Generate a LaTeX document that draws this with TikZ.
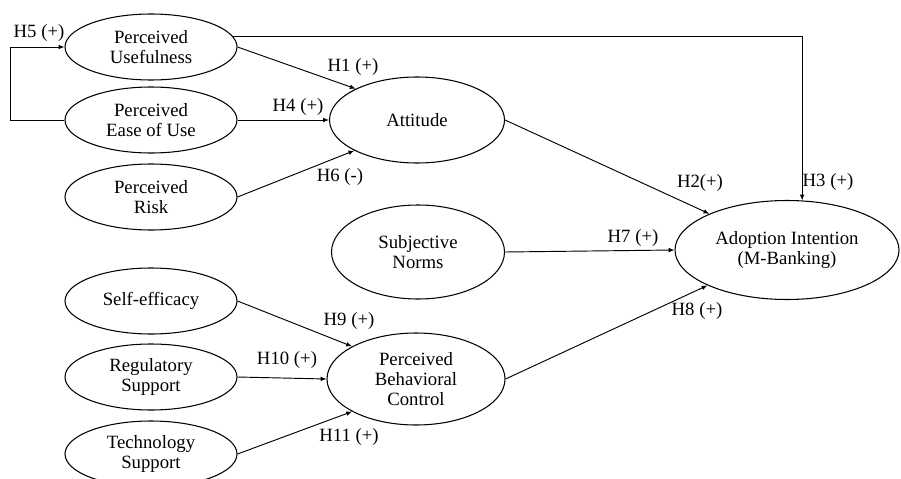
\documentclass[tikz,border=0pt]{standalone}
\usepackage{fontspec}
\setmainfont{Liberation Serif}
\usetikzlibrary{arrows.meta,shapes.geometric}
\tikzset{
	construct/.style={draw, ellipse, line width=0.9pt, inner sep=0pt, align=center, font=\fontsize{16}{17}\selectfont},
	small/.style={construct, minimum width=5.16cm, minimum height=1.98cm},
	hyp/.style={font=\fontsize{16}{17}\selectfont, inner sep=0pt},
	arr/.style={line width=0.8pt, -{Latex[length=5pt,width=4pt]}}
}

\begin{document}
\begin{tikzpicture}[x=0.03cm, y=-0.03cm]
			%%%%% START %%%%%
			
			\useasboundingbox (0, 0) rectangle (901, 479);
			
			\node[small] (pu) at (151, 47) {Perceived\\Usefulness};
			\node[small] (peou) at (151, 120) {Perceived\\Ease of Use};
			\node[small] (risk) at (151, 197) {Perceived\\Risk};
			\node[small] (se) at (151, 301) {Self-efficacy};
			\node[small] (rs) at (151, 377) {Regulatory\\Support};
			\node[small] (ts) at (151, 454) {Technology\\Support};
			
			\node[construct, minimum width=5.25cm, minimum height=2.58cm] (att) at (417, 120) {Attitude};
			\node[construct, minimum width=5.19cm, minimum height=2.82cm] (sn) at (418, 252) {Subjective\\Norms};
			\node[construct, minimum width=5.34cm, minimum height=2.76cm] (pbc) at (416, 379) {Perceived\\Behavioral\\Control};
			
			\node[construct, minimum width=6.72cm, minimum height=2.97cm] (ai) at (787, 250) {Adoption Intention\\(M-Banking)};
			
			\draw[arr] (pu.east) -- (att.153);
			\draw[arr] (peou.east) -- (att.west);
			\draw[arr] (risk.east) -- (att.206);
			\draw[arr] (peou.west) -- ++(-54, 0) |- (pu.west);
			
			\draw[arr] (att.east) -- (ai.155);
			\draw[arr] (pu.7) -| (ai.73);
			\draw[arr] (sn.east) -- (ai.west);
			\draw[arr] (pbc.east) -- (ai.204);
			
			\draw[arr] (se.east) -- (pbc.153);
			\draw[arr] (rs.east) -- (pbc.west);
			\draw[arr] (ts.east) -- (pbc.207);
			
			\node[hyp] (lh5) at (39, 33) {H5 (+)};
			\node[hyp] (lh1) at (353, 67) {H1 (+)};
			\node[hyp] (lh4) at (298, 107) {H4 (+)};
			\node[hyp] (lh6) at (340, 177) {H6 (-)};
			\node[hyp] (lh2) at (700, 183) {H2(+)};
			\node[hyp] (lh3) at (828, 182) {H3 (+)};
			\node[hyp] (lh7) at (633, 238) {H7 (+)};
			\node[hyp] (lh8) at (697, 311) {H8 (+)};
			\node[hyp] (lh9) at (349, 321) {H9 (+)};
			\node[hyp] (lh10) at (287, 360) {H10 (+)};
			\node[hyp] (lh11) at (349, 437) {H11 (+)};
			
			%%%%% END %%%%%
\end{tikzpicture}
\end{document}
